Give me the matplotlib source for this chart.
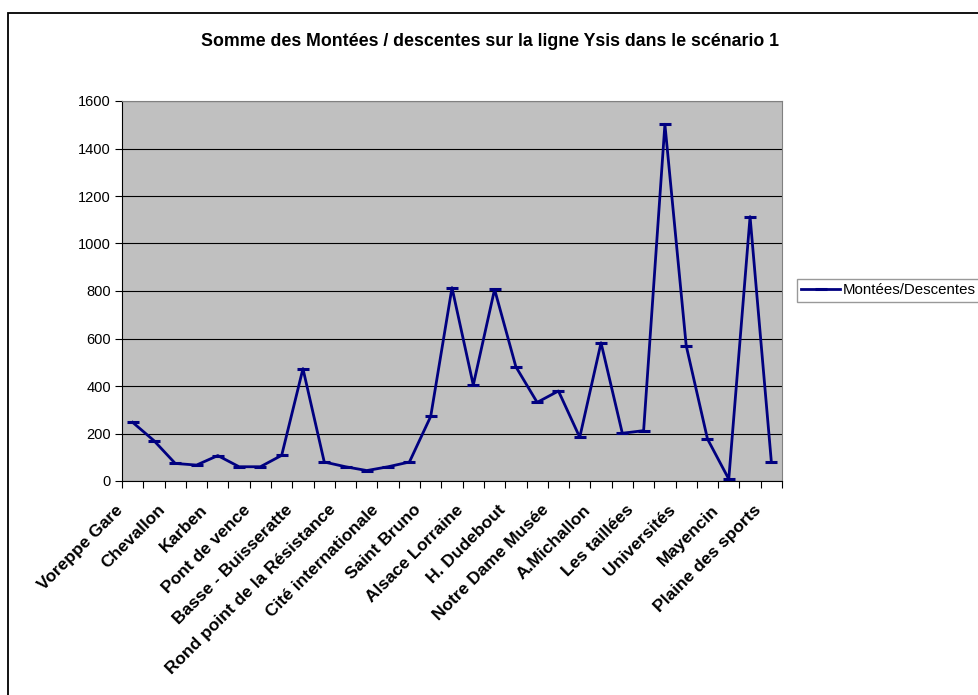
import matplotlib.pyplot as plt
import numpy as np
from matplotlib.patches import Rectangle
from matplotlib.transforms import ScaledTranslation

# stop names, only every other stop is labelled on the axis
labels = ["Voreppe Gare", "Chevallon", "Karben", "Pont de vence",
          "Basse - Buisseratte", "Rond point de la Résistance",
          "Cité internationale", "Saint Bruno", "Alsace Lorraine",
          "H. Dudebout", "Notre Dame Musée", "A.Michallon", "Les taillées",
          "Universités", "Mayencin", "Plaine des sports"]

montees_descentes = [247, 170, 74, 67, 107, 60, 60, 108, 473, 80, 60, 44, 60,
                     80, 272, 814, 404, 807, 481, 331, 379, 184, 582, 201,
                     212, 1502, 570, 177, 8, 1113, 80]

title = "Somme des Montées / descentes sur la ligne Ysis dans le scénario 1"
serie = "Montées/Descentes"

plt.rcParams['font.family'] = ['Liberation Sans', 'DejaVu Sans']

fig = plt.figure(figsize=(9.79, 6.95), dpi=100)
W, H = 979, 695

# chart border (runs off the right and bottom edges)
fig.patches.append(Rectangle((8.5 / W, -0.05), 1.2, 1 - 13 / H + 0.05,
                             transform=fig.transFigure, fill=False,
                             edgecolor='black', lw=1.3))

ax = fig.add_axes([122 / W, 1 - 481 / H, (782 - 122) / W, (481 - 101) / H])
ax.set_facecolor('#C0C0C0')

n = len(montees_descentes)
x = np.arange(n)
line, = ax.plot(x, montees_descentes, color='#000080', lw=2.0,
                marker='_', markersize=8.5, markeredgewidth=2.2, zorder=3)

ax.set_xlim(-0.5, n - 0.5)
ax.set_ylim(0, 1600)
ax.set_yticks(np.arange(0, 1601, 200))
ax.yaxis.grid(True, color='black', lw=0.8)
ax.set_axisbelow(True)

ax.set_xticks(np.arange(-0.5, n, 1.0))
ax.set_xticklabels([])
ax.set_xticks(x[::2], labels, minor=True)
ax.tick_params(axis='x', which='major', direction='out', length=5,
               width=0.8, color='black')
ax.tick_params(axis='x', which='minor', length=0, pad=19)
ax.tick_params(axis='y', direction='out', length=5, width=0.8,
               labelsize=10.5, pad=3)
shift = ScaledTranslation(-12.5 / 100, 0, fig.dpi_scale_trans)
for t in ax.get_xticklabels(minor=True):
    t.set_rotation(45)
    t.set_rotation_mode('anchor')
    t.set_ha('right')
    t.set_va('center')
    t.set_fontweight('bold')
    t.set_fontsize(12.5)
    t.set_transform(t.get_transform() + shift)

for side in ('top', 'right'):
    ax.spines[side].set_color('#808080')
for side in ('left', 'bottom'):
    ax.spines[side].set_color('black')

fig.text(490 / W, 1 - 42 / H, title, ha='center', va='center',
         fontsize=12.8, fontweight='bold')

leg = fig.legend([line], [serie], loc='center left',
                 bbox_to_anchor=(797 / W, 1 - 290 / H), frameon=True,
                 fancybox=False, edgecolor='#808080', fontsize=10.8,
                 handlelength=2.6, handletextpad=0.15, borderpad=0.3,
                 borderaxespad=0)
leg.get_frame().set_linewidth(1.0)

fig.savefig('out.png', dpi=100)
